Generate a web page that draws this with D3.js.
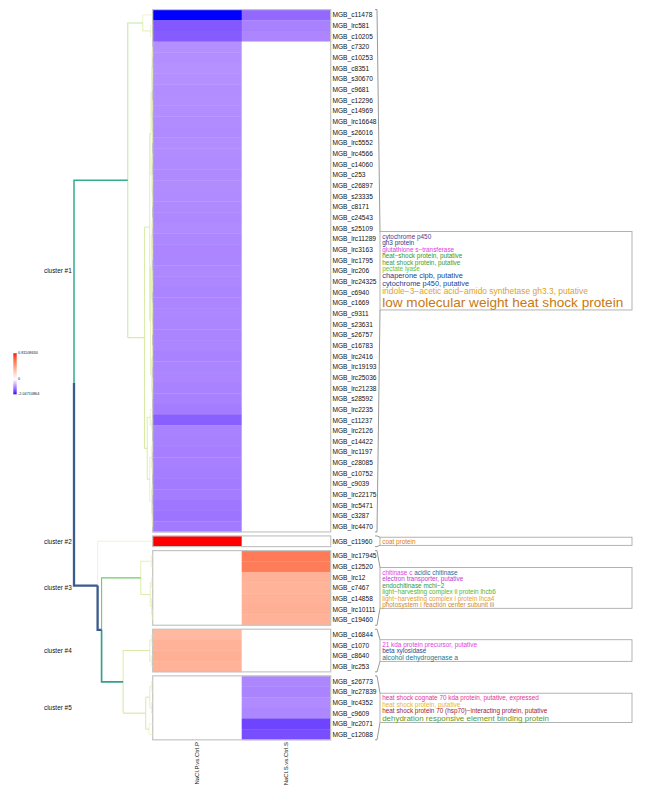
<!DOCTYPE html>
<html>
<head>
<meta charset="utf-8">
<script src="https://cdn.jsdelivr.net/npm/d3@7"></script>
<style>
body { margin: 0; background: #fff; }
text { font-family: "Liberation Sans", Arial, sans-serif; }
</style>
</head>
<body>
<div></div>
<script>
const width = 650;
const height = 789;

const columns = ['NaCl.P.vs.Ctrl.P', 'NaCl.S.vs.Ctrl.S'];
const clusterNames = ['cluster #1', 'cluster #2', 'cluster #3', 'cluster #4', 'cluster #5'];

// cluster #1
const rows1 = ['c11478','lrc581','c10205','c7320','c10253','c8351','s30670','c9681','c12296','c14969',
    'lrc16648','s26016','lrc5552','lrc4566','c14060','c253','c26897','s23335','c8171','c24543',
    's25109','lrc11289','lrc3163','lrc1795','lrc206','lrc24325','c6940','c1669','c9311','s23631',
    's26757','c16783','lrc2416','lrc19193','lrc25036','lrc21238','s28592','lrc2235','c11237','lrc2126',
    'c14422','lrc1197','c28085','c10752','c9039','lrc22175','lrc5471','c3287','lrc4470'];
const valP1 = [-2.04710864, -1.46, -1.43, -0.97, -0.98, -0.96, -0.97, -0.99, -0.98, -0.99,
    -1.00, -1.01, -0.99, -1.00, -1.01, -1.02, -1.00, -1.01, -1.02, -1.03,
    -1.01, -1.04, -1.06, -1.05, -1.03, -1.04, -1.07, -1.06, -1.04, -1.05,
    -1.07, -1.06, -1.09, -1.07, -1.06, -1.09, -1.10, -1.14, -1.40, -1.09,
    -1.10, -1.12, -1.11, -1.13, -1.15, -1.14, -1.19, -1.21, -1.16];
const valS1 = [-1.32, -1.10, -1.06, 0, 0, 0, 0, 0, 0, 0,
    0, 0, 0, 0, 0, 0, 0, 0, 0, 0,
    0, 0, 0, 0, 0, 0, 0, 0, 0, 0,
    0, 0, 0, 0, 0, 0, 0, 0, 0, 0,
    0, 0, 0, 0, 0, 0, 0, 0, 0];

// cluster #2
const rows2 = ['c11960'];
const valP2 = [0.81108630];
const valS2 = [0];

// cluster #3
const rows3 = ['lrc17945','c12520','lrc12','c7467','c14858','lrc10111','c19460'];
const valP3 = [0, 0, 0, 0, 0, 0, 0];
const valS3 = [0.55, 0.54, 0.33, 0.32, 0.33, 0.34, 0.33];

// cluster #4
const rows4 = ['c16844','c1070','c8640','lrc253'];
const valP4 = [0.30, 0.33, 0.34, 0.33];
const valS4 = [0, 0, 0, 0];

// cluster #5
const rows5 = ['s26773','lrc27839','lrc4352','c9609','lrc2071','c12088'];
const valP5 = [0, 0, 0, 0, 0, 0];
const valS5 = [-1.05, -1.08, -1.01, -1.04, -1.63, -1.55];

// dendrogram merges: [height, left, right]
const tree1 = [2.5,
    [1.0, 'c11478', [0.2, 'lrc581', 'c10205']],
    [0.83,
        [0.3,
            [0.18,
                [0.1,
                    [0.06, [0.03, 'c7320', 'c10253'], [0.04, [0.02, 'c8351', 's30670'], 'c9681']],
                    [0.07, [0.03, 'c12296', 'c14969'], [0.05, 'lrc16648', [0.02, 's26016', 'lrc5552']]]],
                [0.08, [0.04, 'lrc4566', 'c14060'], [0.05, [0.02, 'c253', 'c26897'], [0.03, 's23335', 'c8171']]]],
            [0.22,
                [0.14,
                    [0.07, [0.03, 'c24543', 's25109'], [0.04, 'lrc11289', [0.02, 'lrc3163', 'lrc1795']]],
                    [0.09, [0.04, 'lrc206', [0.02, 'lrc24325', 'c6940']], [0.05, [0.03, 'c1669', 'c9311'], [0.02, 's23631', 's26757']]]],
                [0.1, [0.05, [0.02, 'c16783', 'lrc2416'], 'lrc19193'], [0.06, [0.03, 'lrc25036', 'lrc21238'], 's28592']]]],
        [0.55,
            [0.25, 'lrc2235', [0.1, 'c11237', 'lrc2126']],
            [0.3,
                [0.1, [0.04, 'c14422', 'lrc1197'], [0.05, 'c28085', 'c10752']],
                [0.12, [0.05, 'c9039', 'lrc22175'], [0.06, 'lrc5471', [0.03, 'c3287', 'lrc4470']]]]]]];
const tree2 = 'c11960';
const tree3 = [1.2, [0.15, 'lrc17945', 'c12520'], [0.25, [0.1, 'lrc12', 'c7467'], [0.12, 'c14858', [0.05, 'lrc10111', 'c19460']]]];
const tree4 = [0.3, [0.1, 'c16844', 'c1070'], [0.15, 'c8640', 'lrc253']];
const tree5 = [0.7, [0.3, [0.1, 's26773', 'lrc27839'], [0.12, 'lrc4352', 'c9609']], [0.37, 'lrc2071', 'c12088']];
const dendro = [7.9, tree1, [5.53, tree2, [5.13, tree3, [2.97, tree4, tree5]]]];

// word cloud terms, one array per line
const terms1 = [['cytochrome p450'], ['gh3 protein'], ['glutathione s−transferase'], ['heat−shock protein, putative'],
    ['heat shock protein, putative'], ['pectate lyase'], ['chaperone clpb, putative'], ['cytochrome p450, putative'],
    ['indole−3−acetic acid−amido synthetase gh3.3, putative'], ['low molecular weight heat shock protein']];
const weights1 = [[1], [1], [1], [1], [1], [1], [2], [2], [3], [8]];
const colors1 = [['#4b3b9b'], ['#223f8f'], ['#e040e0'], ['#2e9a2e'], ['#3a9a3a'], ['#5fbf3f'], ['#243f8a'], ['#243f8a'], ['#e0a224'], ['#c8780f']];

const terms2 = [['coat protein']];
const weights2 = [[1]];
const colors2 = [['#e07a20']];

const terms3 = [['chitinase c', 'acidic chitinase'], ['electron transporter, putative'], ['endochitinase mchi−2'],
    ['light−harvesting complex ii protein lhcb6'], ['light−harvesting complex i protein lhca4'], ['photosystem i reaction center subunit iii']];
const weights3 = [[1, 1], [1], [1], [1], [1], [1]];
const colors3 = [['#e63ce6', '#2b6a9b'], ['#c03ad0'], ['#2f9a3f'], ['#55b52f'], ['#e8a030'], ['#d08a2a']];

const terms4 = [['21 kda protein precursor, putative'], ['beta xylosidase'], ['alcohol dehydrogenase a']];
const weights4 = [[1], [1], [1.4]];
const colors4 = [['#e23ee2'], ['#2a4a8c'], ['#217a8c']];

const terms5 = [['heat shock cognate 70 kda protein, putative, expressed'], ['heat shock protein, putative'],
    ['heat shock protein 70 (hsp70)−interacting protein, putative'], ['dehydration responsive element binding protein']];
const weights5 = [[1], [1], [1], [2.5]];
const colors5 = [['#e8309a'], ['#e6b43a'], ['#a01a3a'], ['#5a9a1a']];

const clusters = [
    {name: clusterNames[0], rows: rows1, p: valP1, s: valS1, terms: terms1, weights: weights1, colors: colors1},
    {name: clusterNames[1], rows: rows2, p: valP2, s: valS2, terms: terms2, weights: weights2, colors: colors2},
    {name: clusterNames[2], rows: rows3, p: valP3, s: valS3, terms: terms3, weights: weights3, colors: colors3},
    {name: clusterNames[3], rows: rows4, p: valP4, s: valS4, terms: terms4, weights: weights4, colors: colors4},
    {name: clusterNames[4], rows: rows5, p: valP5, s: valS5, terms: terms5, weights: weights5, colors: colors5}
];

const svg = d3.select('div').append('svg').attr('width', width).attr('height', height);
svg.append('rect').attr('width', width).attr('height', height).attr('fill', 'white');

// scales
const allRows = clusters.flatMap(c => c.rows);
const rowH = 10.66, gap = 4, topY = 9.6;
const y = d3.scaleBand().domain(allRows).range([topY, topY + allRows.length * rowH]);
const clusterOf = new Map();
clusters.forEach((c, k) => c.rows.forEach(r => clusterOf.set(r, k)));
const rowY = r => y(r) + clusterOf.get(r) * gap;
const bw = y.bandwidth();

const x = d3.scaleBand().domain(columns).range([152.7, 330.7]);

const allVals = clusters.flatMap(c => c.p.concat(c.s));
const vmin = d3.min(allVals), vmax = d3.max(allVals);
const color = d3.scaleLinear().domain([vmin, 0, vmax]).range(['#0000ff', '#ffffff', '#ff0000']).interpolate(d3.interpolateLab);

// heatmap cells
const heat = svg.append('g');
clusters.forEach(c => {
    const cells = [];
    c.rows.forEach((r, i) => {
        cells.push({row: r, col: columns[0], v: c.p[i]});
        cells.push({row: r, col: columns[1], v: c.s[i]});
    });
    heat.append('g').selectAll('rect').data(cells).enter().append('rect')
        .attr('x', d => x(d.col))
        .attr('y', d => rowY(d.row))
        .attr('width', x.bandwidth() + 0.3)
        .attr('height', bw + 0.3)
        .attr('fill', d => color(d.v));
    const y0 = rowY(c.rows[0]), y1 = rowY(c.rows[c.rows.length - 1]) + bw;
    heat.append('rect')
        .attr('x', x.range()[0]).attr('y', y0)
        .attr('width', x.range()[1] - x.range()[0]).attr('height', y1 - y0)
        .attr('fill', 'none').attr('stroke', '#c4c4c4').attr('stroke-width', 1.2);
    c.y0 = y0; c.y1 = y1;
});

// row labels
svg.append('g').selectAll('text').data(allRows).enter().append('text')
    .attr('x', 332.5)
    .attr('y', d => rowY(d) + bw / 2)
    .attr('dominant-baseline', 'central')
    .attr('font-size', 6.6)
    .attr('fill', '#111')
    .text(d => 'MGB_' + d);

// column labels
svg.append('g').selectAll('text').data(columns).enter().append('text')
    .attr('transform', d => 'translate(' + (x(d) + x.bandwidth() / 2) + ',742) rotate(-90)')
    .attr('text-anchor', 'end')
    .attr('dominant-baseline', 'central')
    .attr('font-size', 6)
    .attr('fill', '#111')
    .text(d => d);

// dendrogram
const root = d3.hierarchy(dendro, d => Array.isArray(d) ? d.slice(1) : null);
const xH = d3.scaleLinear().domain([0, dendro[0]]).range([152.7, 74]);
root.eachAfter(n => {
    n.h = Array.isArray(n.data) ? n.data[0] : 0;
    n.px = xH(n.h);
    n.py = n.children ? d3.mean(n.children, ch => ch.py) : rowY(n.data) + bw / 2;
});
const edgeColor = d3.scaleLinear().domain([0, 0.3, 1.0, 1.15, 2.5, 5.0])
    .range(['#e6f1b4', '#cfe68a', '#c4e6a0', '#6fcd60', '#33ad8b', '#3b5b8e']).clamp(true);
const edgeWidth = d3.scaleLinear().domain([0, 5]).range([0.7, 2.3]).clamp(true);

svg.append('g').attr('fill', 'none')
    .selectAll('path').data(root.descendants().filter(n => n.parent).sort((a, b) => a.h - b.h))
    .enter().append('path')
    .attr('d', n => 'M' + n.parent.px + ',' + n.parent.py + 'V' + n.py + 'H' + n.px)
    .attr('stroke', n => edgeColor(n.h))
    .attr('stroke-width', n => edgeWidth(n.h));

// cluster labels
svg.append('g').selectAll('text').data(clusters).enter().append('text')
    .attr('x', 44)
    .attr('y', c => (c.y0 + c.y1) / 2)
    .attr('dominant-baseline', 'central')
    .attr('font-size', 6.4)
    .attr('fill', '#111')
    .text(c => c.name);

// word cloud boxes + links
const fsScale = d3.scaleLinear().domain([1, 8]).range([6.4, 13.6]);
const boxX = 380, boxW = 252, pad = 0.8, lineF = 1.02;
const ann = svg.append('g');
clusters.forEach(c => {
    const sizes = c.weights.map(w => fsScale(d3.max(w)));
    const total = d3.sum(sizes) * lineF + 2 * pad;
    const cy = (c.y0 + c.y1) / 2;
    const bTop = cy - total / 2, bBot = cy + total / 2;

    ann.append('path')
        .attr('d', 'M375,' + c.y0 + 'H377L' + boxX + ',' + bTop + 'M375,' + c.y1 + 'H377L' + boxX + ',' + bBot)
        .attr('fill', 'none').attr('stroke', '#555').attr('stroke-width', 0.6);
    ann.append('rect')
        .attr('x', boxX).attr('y', bTop).attr('width', boxW).attr('height', total)
        .attr('fill', 'white').attr('stroke', '#a0a0a0').attr('stroke-width', 0.8);

    let cur = bTop + pad;
    c.terms.forEach((line, li) => {
        const fs = sizes[li];
        const t = ann.append('text')
            .attr('x', boxX + 2.2)
            .attr('y', cur + fs * lineF / 2)
            .attr('dominant-baseline', 'central')
            .attr('font-size', fs);
        line.forEach((word, wi) => {
            t.append('tspan')
                .attr('fill', c.colors[li][wi])
                .attr('font-size', fsScale(c.weights[li][wi]))
                .text((wi > 0 ? ' ' : '') + word);
        });
        cur += fs * lineF;
    });
});

// colour legend
const legY = d3.scaleLinear().domain([vmin, 0, vmax]).range([394.3, 379.3, 353.3]);
const grad = svg.append('defs').append('linearGradient')
    .attr('id', 'lg').attr('x1', 0).attr('y1', 0).attr('x2', 0).attr('y2', 1);
const stopVals = d3.range(0, 1.0001, 0.05).map(t => vmax * (1 - t))
    .concat(d3.range(0.05, 1.0001, 0.05).map(t => vmin * t));
grad.selectAll('stop').data(stopVals).enter().append('stop')
    .attr('offset', v => (legY(v) - 353.3) / 41)
    .attr('stop-color', v => color(v));
svg.append('rect').attr('x', 13.3).attr('y', 353.3).attr('width', 3.4).attr('height', 41).attr('fill', 'url(#lg)');
svg.append('g').selectAll('text').data([vmax, 0, vmin]).enter().append('text')
    .attr('x', 18)
    .attr('y', v => legY(v))
    .attr('dominant-baseline', 'central')
    .attr('font-size', 3.8)
    .attr('fill', '#222')
    .text(v => v === 0 ? '0' : v.toFixed(8));
</script>
</body>
</html>
